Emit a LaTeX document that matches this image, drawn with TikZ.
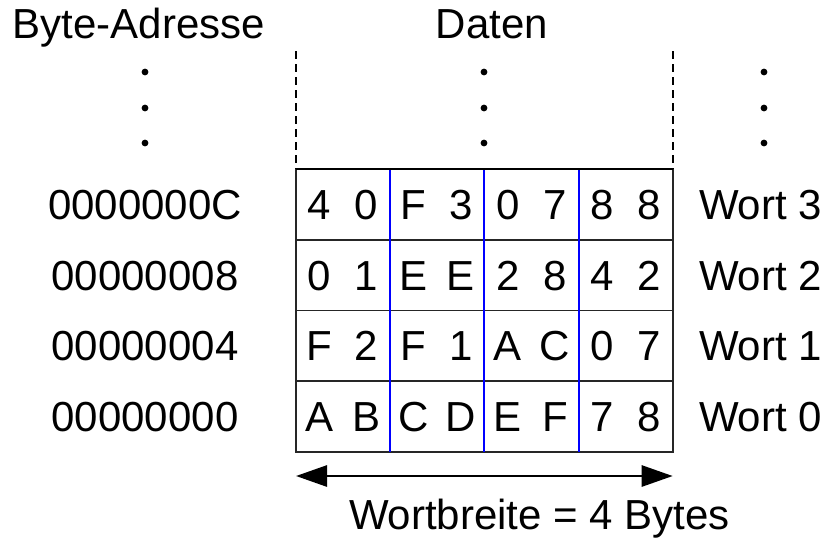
\documentclass[tikz,border=0pt]{standalone}
\usepackage{fontspec}
\setmainfont{Liberation Sans}
\usetikzlibrary{arrows.meta}
\begin{document}
\begin{tikzpicture}[x=1pt,y=-1pt,
  lbl/.style={font=\fontsize{42}{48}\selectfont, inner sep=0pt, anchor=base},
  gridline/.style={line width=1.6pt, draw=black!85},
  topline/.style={line width=2.2pt, draw=black},
  bytesep/.style={line width=2pt, draw=blue},
  dashv/.style={line width=2.4pt, dash pattern=on 8pt off 5pt},
  widtharrow/.style={line width=2.8pt, {Triangle[length=31pt,width=21pt]}-{Triangle[length=31pt,width=21pt]}},
  ellipsisdot/.style={fill=black}]
\useasboundingbox (0,0) rectangle (829,539);
% table frame
\coordinate (tl) at (296,169);
\coordinate (tr) at (672.7,169);
\coordinate (bl) at (296,452);
\coordinate (br) at (672.7,452);
\draw[gridline] (tl) rectangle (br);
\foreach \y in {239.75,310.5,381.25}{
  \draw[gridline] (296,\y) -- (672.7,\y);
}
\foreach \x in {390.2,484.4,578.5}{
  \draw[bytesep] (\x,169) -- (\x,452);
}
\draw[topline] (tl) -- (tr);
% dashed continuation
\coordinate (dl) at (296,51);
\coordinate (dr) at (672.7,51);
\draw[dashv] (dl) -- (tl);
\draw[dashv] (dr) -- (tr);
% dots
\foreach \x in {145,484,764}{
  \foreach \y in {72,108,143}{
    \fill[ellipsisdot] (\x,\y) circle (3.4pt);
  }
}
% headers
\node[lbl] (hA) at (139,38.5) {Byte-Adresse};
\node[lbl] (hD) at (492,38.5) {Daten};
% data
\foreach \r/\y/\data in {3/219.4/{4,0,F,3,0,7,8,8},2/290.1/{0,1,E,E,2,8,4,2},1/360.9/{F,2,F,1,A,C,0,7},0/431.6/{A,B,C,D,E,F,7,8}}{
  \foreach \d [count=\c from 0] in \data {
    \node[lbl] (d\r-\c) at ({296+47.09*(\c+0.5)},\y) {\d};
  }
}
% addresses
\node[lbl] (a3) at (145,219.4) {0000000C};
\node[lbl] (a2) at (145,290.1) {00000008};
\node[lbl] (a1) at (145,360.9) {00000004};
\node[lbl] (a0) at (145,431.6) {00000000};
% words
\node[lbl] (w3) at (760.5,219.4) {Wort 3};
\node[lbl] (w2) at (760.5,290.1) {Wort 2};
\node[lbl] (w1) at (760.5,360.9) {Wort 1};
\node[lbl] (w0) at (760.5,431.6) {Wort 0};
% width arrow
\coordinate (aL) at (296,476);
\coordinate (aR) at (672.7,476);
\draw[widtharrow] (aL) -- (aR);
\node[lbl] (wb) at (539.5,529.5) {Wortbreite = 4 Bytes};
\end{tikzpicture}
\end{document}
